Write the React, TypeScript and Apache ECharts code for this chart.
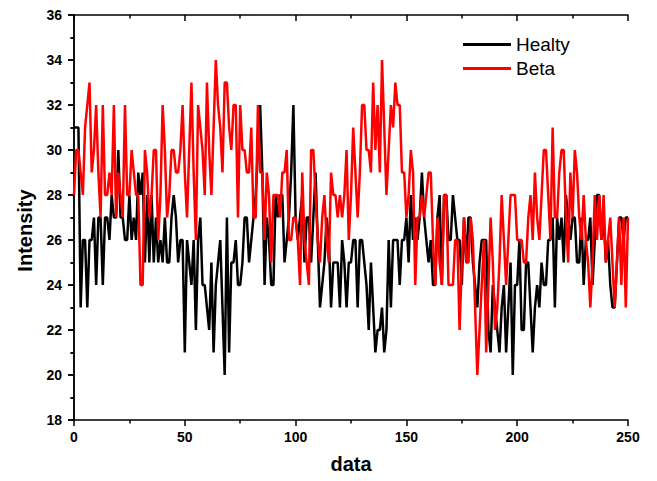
import React, { useEffect, useRef } from "react";
import * as echarts from "echarts";

const xIndex: number[] = Array.from({ length: 251 }, (_, i) => i);

const healty: number[] = [
  31, 31, 31, 23, 26, 26, 23, 26, 26, 27, 24, 27, 27, 24, 27, 27, 26, 28, 27, 27, 30, 27, 27, 26,
  26, 28, 26, 27, 26, 29, 28, 29, 25, 28, 25, 28, 25, 27, 25, 26, 25, 27, 25, 25, 27, 28, 27, 25,
  26, 26, 21, 26, 25, 24, 26, 22, 26, 27, 24, 24, 23, 22, 25, 21, 24, 25, 26, 23, 20, 27, 21, 25, 25,
  26, 24, 24, 25, 27, 27, 25, 26, 27, 28, 30, 32, 29, 24, 27, 26, 24, 24, 28, 27, 28, 28, 25, 26, 27,
  29, 32, 27, 26, 27, 28, 25, 27, 27, 25, 27, 29, 26, 23, 24, 25, 27, 26, 23, 25, 25, 25, 23, 26, 25,
  23, 25, 25, 26, 26, 23, 26, 26, 25, 24, 22, 25, 23, 21, 22, 22, 23, 21, 22, 26, 23, 26, 26, 26, 24,
  26, 26, 27, 25, 28, 26, 27, 26, 27, 29, 27, 26, 25, 26, 24, 24, 27, 28, 24, 28, 28, 26, 26, 28,
  27, 26, 26, 24, 27, 25, 27, 27, 25, 24, 23, 25, 26, 26, 26, 22, 21, 24, 23, 22, 21, 23, 24, 21, 23,
  25, 20, 24, 24, 26, 22, 22, 25, 25, 23, 21, 23, 24, 23, 25, 24, 24, 26, 26, 27, 23, 27, 26, 27, 25,
  28, 27, 26, 27, 27, 25, 25, 27, 24, 26, 26, 27, 24, 26, 28, 28, 26, 27, 25, 26, 24, 23, 23, 25, 27, 27, 26, 27, 27,
];

const beta: number[] = [
  28, 30, 30, 29, 28, 31, 32, 33, 29, 30, 32, 29, 27, 32, 28, 28, 29, 28, 32, 27, 29, 28, 27, 32,
  28, 28, 30, 29, 28, 28, 24, 24, 30, 29, 27, 28, 30, 30, 26, 28, 32, 30, 27, 28, 30, 30, 29, 29,
  30, 32, 29, 27, 30, 33, 29, 26, 32, 31, 30, 28, 33, 30, 28, 31, 34, 32, 31, 29, 33, 33, 31, 30, 32,
  32, 27, 32, 30, 30, 29, 29, 31, 27, 27, 32, 29, 29, 26, 29, 28, 25, 28, 28, 28, 27, 29, 29, 30, 26,
  26, 27, 27, 26, 24, 29, 26, 25, 24, 30, 30, 28, 26, 25, 27, 28, 26, 25, 29, 28, 28, 27, 28, 27, 28,
  30, 26, 28, 31, 29, 27, 29, 32, 32, 30, 30, 29, 33, 30, 32, 29, 34, 31, 28, 30, 32, 31, 33, 32, 32,
  29, 29, 27, 28, 30, 29, 24, 27, 27, 28, 27, 28, 29, 29, 26, 24, 27, 25, 24, 28, 28, 24, 24, 24,
  26, 26, 22, 25, 27, 25, 25, 27, 26, 23, 20, 22, 24, 26, 21, 24, 27, 25, 22, 23, 25, 28, 26, 24, 26,
  28, 28, 28, 26, 26, 26, 25, 25, 27, 28, 26, 29, 27, 26, 28, 30, 30, 28, 26, 31, 27, 27, 29, 30, 30,
  27, 25, 29, 27, 30, 29, 27, 26, 28, 26, 25, 23, 25, 28, 26, 28, 26, 28, 25, 26, 27, 25, 23, 25, 27, 24, 27, 23, 27, 24,
];

const seriesNames: string[] = ["Healty", "Beta"];
const seriesColors: string[] = ["#000000", "#ff0000"];

const FONT = "'Liberation Sans', Arial, sans-serif";

export default function App() {
  const ref = useRef<HTMLDivElement>(null);

  useEffect(() => {
    if (!ref.current) return;
    const chart = echarts.init(ref.current, undefined, { renderer: "svg" });

    const axisLine = { show: true, lineStyle: { color: "#000", width: 1.5 } };
    const labelStyle = {
      color: "#000",
      fontFamily: FONT,
      fontWeight: "bold" as const,
      fontSize: 14,
    };

    const mkX = (pos: "bottom" | "top", main: boolean) => ({
      type: "value" as const,
      position: pos,
      min: 0,
      max: 250,
      interval: 50,
      axisLine,
      axisTick: { show: true, inside: !main, length: 6, lineStyle: { color: "#000", width: 1.5 } },
      minorTick: { show: true, splitNumber: 2, length: 3.5, lineStyle: { color: "#000", width: 1.5 } },
      axisLabel: { show: main, margin: 10, ...labelStyle },
      splitLine: { show: false },
      name: main ? "data" : "",
      nameLocation: "middle" as const,
      nameGap: 34,
      nameTextStyle: { color: "#000", fontFamily: FONT, fontWeight: "bold" as const, fontSize: 20 },
    });

    const mkY = (pos: "left" | "right", main: boolean) => ({
      type: "value" as const,
      position: pos,
      min: 18,
      max: 36,
      interval: 2,
      axisLine,
      axisTick: { show: true, inside: !main, length: 6, lineStyle: { color: "#000", width: 1.5 } },
      minorTick: { show: true, splitNumber: 2, length: 3.5, lineStyle: { color: "#000", width: 1.5 } },
      axisLabel: { show: main, margin: 12, ...labelStyle },
      splitLine: { show: false },
      name: main ? "Intensity" : "",
      nameLocation: "middle" as const,
      nameGap: 39,
      nameRotate: 90,
      nameTextStyle: {
        color: "#000",
        fontFamily: FONT,
        fontWeight: "bold" as const,
        fontSize: 20,
        padding: [0, 26, 0, 0],
      },
    });

    const data = [healty, beta];

    chart.setOption({
      animation: false,
      backgroundColor: "#ffffff",
      grid: { left: 74, right: 29, top: 15, bottom: 61, containLabel: false },
      legend: {
        orient: "vertical",
        left: 463,
        top: 35,
        padding: 0,
        icon: "rect",
        itemWidth: 48,
        itemHeight: 3,
        itemGap: 5,
        textStyle: { color: "#000", fontFamily: FONT, fontSize: 19 },
        data: seriesNames,
      },
      xAxis: [mkX("bottom", true), mkX("top", false)],
      yAxis: [mkY("left", true), mkY("right", false)],
      series: seriesNames.map((name, k) => ({
        name,
        type: "line",
        xAxisIndex: 0,
        yAxisIndex: 0,
        showSymbol: false,
        symbol: "none",
        color: seriesColors[k],
        lineStyle: { color: seriesColors[k], width: 2.5 },
        data: xIndex.map((x, i) => [x, data[k][i]]),
      })),
    });

    return () => chart.dispose();
  }, []);

  return (
    <div
      ref={ref}
      style={{ position: "fixed", left: 0, top: 0, width: 657, height: 481, background: "#fff" }}
    />
  );
}
